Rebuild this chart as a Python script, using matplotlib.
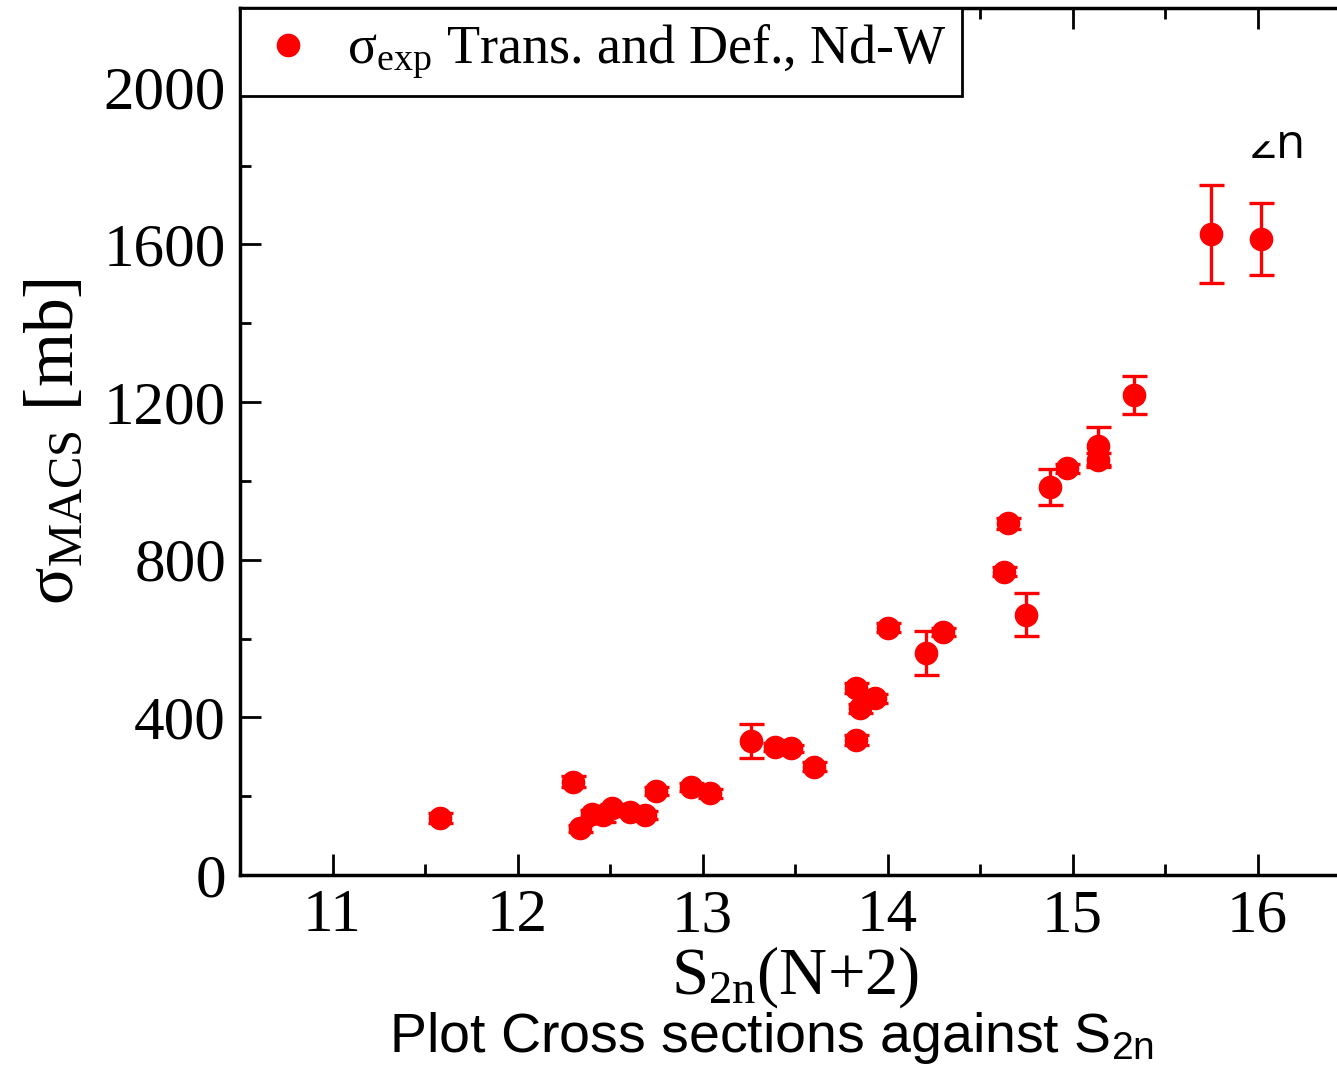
#----------------------------------------------------------------------
# MACS cross sections against S2n(N+2)
#----------------------------------------------------------------------

import matplotlib

matplotlib.use('Agg')

import matplotlib.pyplot as plt
from matplotlib.lines import Line2D
from matplotlib.patches import Rectangle
import numpy as np

# S2n(N+2) [MeV], sigma_MACS [mb], error [mb]
s2n = [11.58, 12.30, 12.34, 12.40, 12.46, 12.51, 12.61, 12.69, 12.75,
       12.94, 13.04, 13.26, 13.39, 13.48, 13.60, 13.83, 13.83, 13.85,
       13.93, 14.00, 14.21, 14.30, 14.63, 14.65, 14.75, 14.88, 14.97,
       15.14, 15.14, 15.33, 15.75, 16.02]
sigma = [145, 237, 118, 156, 152, 169, 160, 152, 213,
         224, 207, 340, 325, 321, 275, 343, 474, 423,
         448, 628, 564, 617, 770, 892, 661, 984, 1032,
         1089, 1053, 1218, 1627, 1614]
err = [12, 14, 10, 10, 18, 10, 10, 10, 10,
       10, 12, 43, 10, 10, 12, 12, 12, 12,
       12, 12, 56, 10, 12, 14, 54, 45, 12,
       49, 18, 48, 124, 91]

legend_label = r'$\mathrm{σ_{exp}}$ Trans. and Def., Nd-W'
xlabel = r'$\mathrm{S_{2n}(N{+}2)}$'
ylabel = r'$\mathrm{σ_{MACS}}$ [mb]'
caption = r'Plot Cross sections against S$_{\mathregular{2n}}$'


def plot_macs():
    plt.rcParams['font.family'] = ['Liberation Serif', 'DejaVu Serif']
    plt.rcParams['mathtext.fontset'] = 'custom'
    plt.rcParams['mathtext.rm'] = 'Liberation Serif'
    plt.rcParams['mathtext.it'] = 'Liberation Serif:italic'

    red = '#ff0000'

    fig = plt.figure(figsize=(13.37, 10.70), dpi=100)
    ax = fig.add_axes([240/1337, 195/1070, 1110/1337, 867/1070])

    ax.errorbar(s2n, sigma, yerr=err, fmt='o', color=red, ms=16,
                elinewidth=2.4, capsize=9, capthick=2.4, zorder=3)

    ax.set_xlim(10.5, 16.5)
    ax.set_ylim(0, 2200)
    ax.set_xticks(np.arange(11, 17, 1))
    ax.set_xticks(np.arange(10.5, 16.6, 0.5), minor=True)
    ax.set_yticks(np.arange(0, 2001, 400))
    ax.set_yticks(np.arange(0, 2201, 200), minor=True)
    ax.tick_params(which='both', direction='in', top=True, right=False,
                   width=2, labelsize=44)
    ax.tick_params(which='major', length=15, pad=10)
    ax.tick_params(which='minor', length=8)
    for sp in ax.spines.values():
        sp.set_linewidth(2.5)

    ax.set_xlabel(xlabel, fontsize=48, labelpad=0)
    ax.set_ylabel(ylabel, fontsize=50, labelpad=12)

    proxy = Line2D([], [], ls='none', marker='o', color=red, ms=16)
    leg = ax.legend([proxy], [legend_label], loc='upper left',
                    bbox_to_anchor=(0, 1), borderaxespad=0, fontsize=39,
                    fancybox=False, framealpha=1, edgecolor='black',
                    handletextpad=0.5, borderpad=0.28, handlelength=1.2)
    leg.get_frame().set_linewidth(2)

    # slide caption and stray text fragment
    fig.text(0.577, 0.004, caption, fontsize=40, ha='center', va='bottom',
             family=['Liberation Sans Narrow', 'Liberation Sans'])
    fig.text(1250/1337, 1-158/1070, '2n', fontsize=34, ha='left', va='baseline',
             family=['Open Sans'])
    fig.patches.append(Rectangle((1245/1337, 1-140/1070), 32/1337, 40/1070,
                                 transform=fig.transFigure, color='white',
                                 zorder=5))

    fig.savefig('out.png', dpi=100)

    return


if __name__ == "__main__":
    plot_macs()
